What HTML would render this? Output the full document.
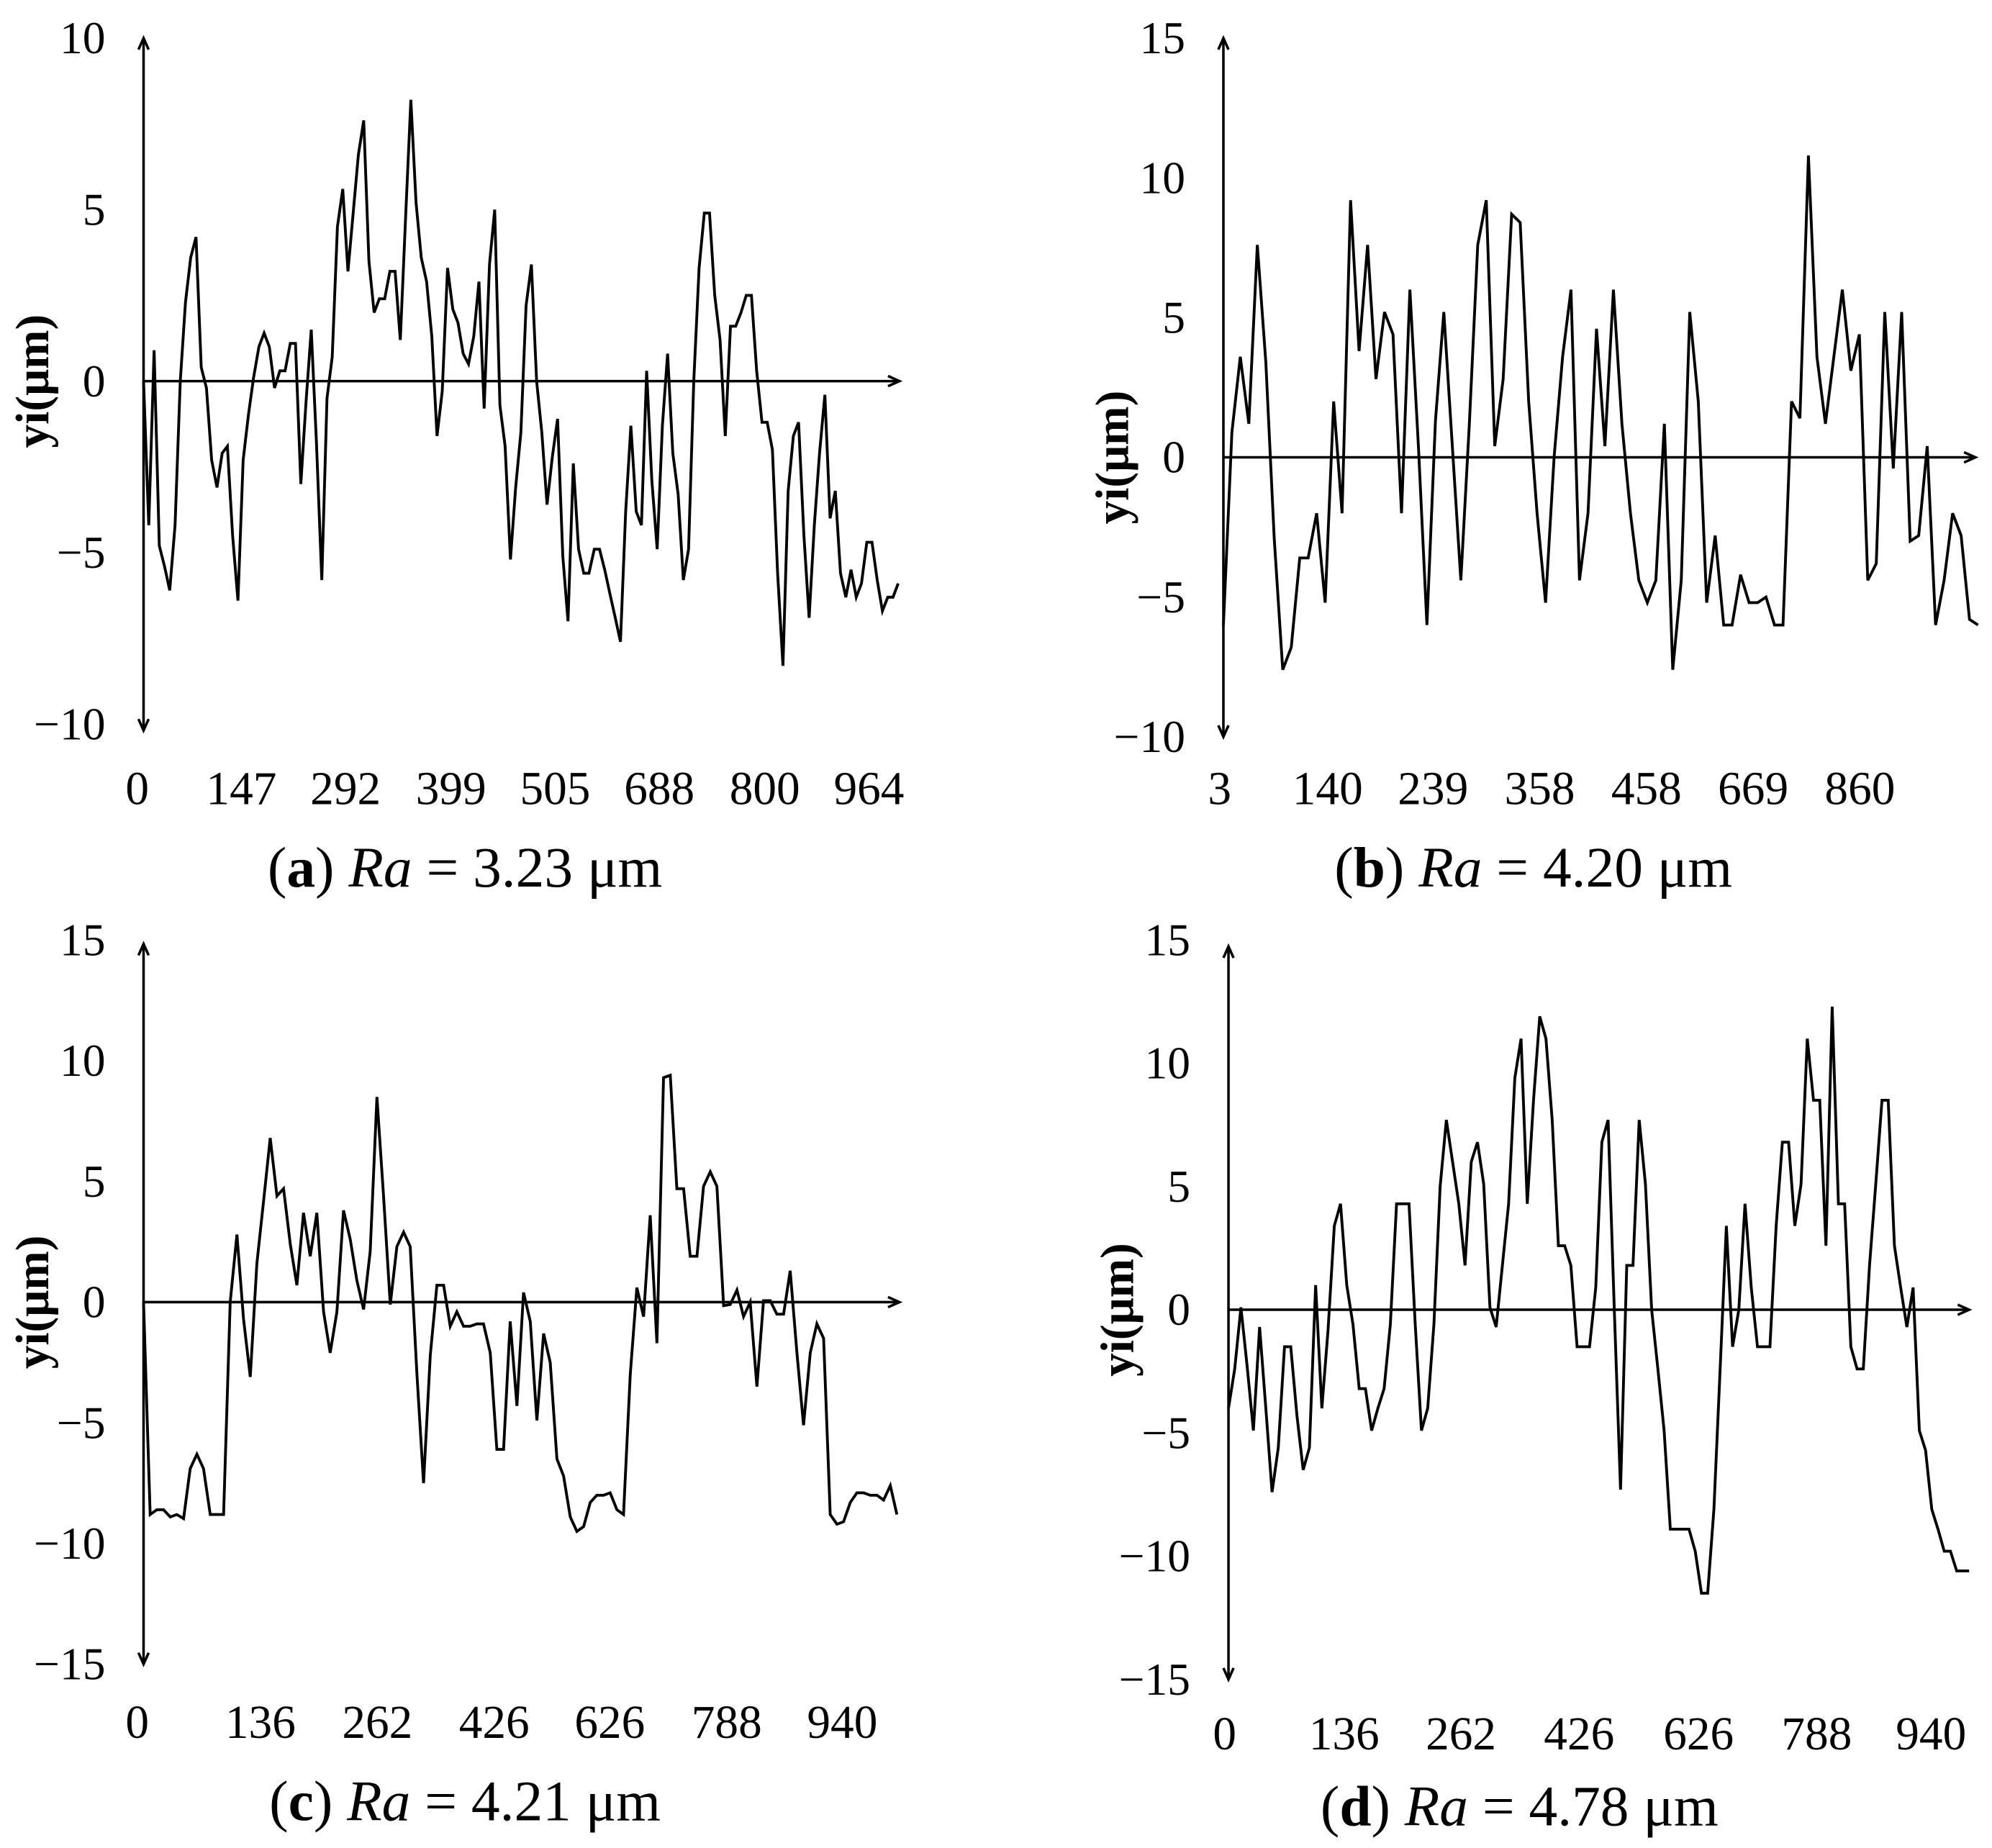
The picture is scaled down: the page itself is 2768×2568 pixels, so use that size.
<!DOCTYPE html>
<html><head><meta charset="utf-8"><style>
html,body{margin:0;padding:0;background:#fff}
svg{display:block}
text{font-family:"Liberation Serif",serif;fill:#000}
</style></head><body>
<svg id="fig" xmlns="http://www.w3.org/2000/svg" width="2768" height="2568" viewBox="0 0 1568 1454.7"></svg>
<script>
const aValues=[0,-4.2,0.9,-4.8,-5.4,-6.1,-4.2,0,2.3,3.6,4.2,0.4,-0.2,-2.3,-3.1,-2.1,-1.9,-4.5,-6.4,-2.3,-1.0,0.1,1.0,1.4,1.0,-0.2,0.3,0.3,1.1,1.1,-3.0,-0.6,1.5,-1.8,-5.8,-0.5,0.7,4.5,5.6,3.2,4.9,6.6,7.6,3.5,2.0,2.4,2.4,3.2,3.2,1.2,4.8,8.2,5.2,3.6,2.9,1.3,-1.6,-0.3,3.3,2.1,1.7,0.8,0.5,1.3,2.9,-0.8,3.4,5.0,-0.7,-1.9,-5.2,-3.1,-1.5,2.2,3.4,0.0,-1.5,-3.6,-2.2,-1.1,-5.1,-7.0,-2.4,-4.9,-5.6,-5.6,-4.9,-4.9,-5.5,-6.2,-6.9,-7.6,-3.8,-1.3,-3.8,-4.2,0.3,-2.9,-4.9,-1.3,0.8,-2.1,-3.3,-5.8,-4.9,0,3.3,4.9,4.9,2.5,1.2,-1.6,1.6,1.6,2.0,2.5,2.5,0.3,-1.2,-1.2,-2.0,-5.6,-8.3,-3.2,-1.6,-1.2,-4.5,-6.9,-4.2,-2.1,-0.4,-4.0,-3.2,-5.6,-6.3,-5.5,-6.3,-5.9,-4.7,-4.7,-5.8,-6.7,-6.3,-6.3,-5.9];
const bValues=[-6.0,0.9,3.6,1.2,7.6,3.4,-2.9,-7.6,-6.8,-3.6,-3.6,-2.0,-5.2,2.0,-2.0,9.2,3.8,7.6,2.8,5.2,4.4,-2.0,6.0,0.4,-6.0,1.3,5.2,0.4,-4.4,1.2,7.6,9.2,0.4,2.8,8.7,8.4,2.0,-2.0,-5.2,0,3.6,6.0,-4.4,-2.0,4.6,0.4,6.0,1.2,-2.0,-4.4,-5.2,-4.4,1.2,-7.6,-4.4,5.2,2.0,-5.2,-2.8,-6.0,-6.0,-4.2,-5.2,-5.2,-5.0,-6.0,-6.0,2.0,1.4,10.8,3.6,1.2,3.6,6.0,3.1,4.4,-4.4,-3.8,5.2,-0.4,5.2,-3.0,-2.8,0.4,-6.0,-4.4,-2.0,-2.8,-5.8,-6.0];
const cValues=[0,-8.8,-8.6,-8.6,-8.9,-8.8,-8.97,-6.9,-6.3,-6.9,-8.8,-8.8,-8.8,0,2.8,-0.7,-3.1,1.6,4.2,6.8,4.4,4.7,2.4,0.7,3.7,1.9,3.7,-0.4,-2.1,-0.4,3.8,2.6,0.9,-0.3,2.1,8.5,4.4,-0.1,2.3,2.9,2.3,-3.0,-7.5,-2.2,0.7,0.7,-1.0,-0.4,-1.0,-1.0,-0.9,-0.9,-2.1,-6.1,-6.1,-0.8,-4.3,0.4,-0.8,-4.9,-1.3,-2.5,-6.5,-7.2,-8.9,-9.5,-9.3,-8.3,-8.0,-8.0,-7.9,-8.6,-8.8,-3.0,0.6,-0.6,3.6,-1.7,9.3,9.4,4.7,4.7,1.9,1.9,4.8,5.4,4.8,-0.15,-0.1,0.5,-0.6,0,-3.5,0.06,0.06,-0.5,-0.5,1.3,-2.1,-5.1,-2.1,-0.9,-1.5,-8.8,-9.2,-9.1,-8.3,-7.9,-7.9,-8.0,-8.0,-8.2,-7.6,-8.8];
const dValues=[-4.0,-2.4,0.1,-2.3,-4.9,-0.7,-4.0,-7.4,-5.6,-1.5,-1.5,-4.3,-6.5,-5.6,1.0,-4.0,-0.8,3.4,4.3,1.0,-0.6,-3.2,-3.2,-4.9,-4.0,-3.2,-0.6,4.3,4.3,4.3,-0.6,-4.9,-4.0,-0.6,5.0,7.7,6.0,4.3,1.8,6.0,6.8,5.1,0.1,-0.7,1.8,4.3,9.4,11.0,4.3,8.5,11.9,11.0,7.7,2.6,2.6,1.8,-1.5,-1.5,-1.5,0.9,6.8,7.7,0,-7.3,1.8,1.8,7.7,5.1,0,-2.4,-4.9,-8.9,-8.9,-8.9,-8.9,-9.8,-11.5,-11.5,-8.1,-2.4,3.4,-1.5,0,4.3,0.9,-1.5,-1.5,-1.5,3.4,6.8,6.8,3.4,5.1,11.0,8.5,8.5,2.6,12.3,4.3,4.3,-1.5,-2.4,-2.4,1.8,5.1,8.5,8.5,2.6,0.9,-0.7,0.9,-4.9,-5.7,-8.1,-8.9,-9.8,-9.8,-10.6,-10.6,-10.6];
const aYTicks=[10,5,0,-5,-10];
const bYTicks=[15,10,5,0,-5,-10];
const cYTicks=[15,10,5,0,-5,-10,-15];
const dYTicks=[15,10,5,0,-5,-10,-15];
const aXLabels=["0","147","292","399","505","688","800","964"];
const bXLabels=["3","140","239","358","458","669","860"];
const cXLabels=["0","136","262","426","626","788","940"];
const dXLabels=["0","136","262","426","626","788","940"];

const NS="http://www.w3.org/2000/svg";
const svg=document.getElementById('fig');
function mk(tag,attrs,parent){const e=document.createElementNS(NS,tag);for(const k in attrs)e.setAttribute(k,attrs[k]);(parent||svg).appendChild(e);return e;}

const panels=[
 {id:'a',vals:aValues,yt:aYTicks,xl:aXLabels,ax:113,x0:113,x1:707,xEnd:708,yTop:30,yBot:575,zero:300,ppu:27,
  xlx:[108,190,272,355,437,519,602,684],xly:633,cap:'3.23',capx:366,capy:698},
 {id:'b',vals:bValues,yt:bYTicks,xl:bXLabels,ax:963,x0:963,x1:1557,xEnd:1555,yTop:30,yBot:580,zero:360,ppu:22,
  xlx:[960,1045,1128,1212,1296,1380,1464],xly:633,cap:'4.20',capx:1207,capy:698},
 {id:'c',vals:cValues,yt:cYTicks,xl:cXLabels,ax:113,x0:113,x1:706,xEnd:708,yTop:743,yBot:1310,zero:1025,ppu:19,
  xlx:[108,205,297,389,480,572,663],xly:1368,cap:'4.21',capx:366,capy:1433},
 {id:'d',vals:dValues,yt:dYTicks,xl:dXLabels,ax:967,x0:967,x1:1550,xEnd:1550,yTop:745,yBot:1322,zero:1031,ppu:19.4,
  xlx:[964,1058,1150,1243,1337,1430,1520],xly:1377,cap:'4.78',capx:1196,capy:1437}
];

panels.forEach(p=>{
  const g=mk('g',{});
  
  
  const yS=v=>p.zero-v*p.ppu;
  const n=p.vals.length;
  const xS=i=>p.x0+(p.x1-p.x0)*i/(n-1);
  const ya=mk('line',{x1:p.ax,y1:p.yTop,x2:p.ax,y2:p.yBot,stroke:'#000','stroke-width':2},g);
  
  
  const ah=mk('path',{d:`M${p.ax-4},${p.yTop+9} L${p.ax},${p.yTop} L${p.ax+4},${p.yTop+9} M${p.ax-4},${p.yBot-9} L${p.ax},${p.yBot} L${p.ax+4},${p.yBot-9}`,fill:'none',stroke:'#000','stroke-width':2},g);
  
  
  const xa=mk('line',{x1:p.ax,y1:p.zero,x2:p.xEnd,y2:p.zero,stroke:'#000','stroke-width':2},g);
  
  
  const xh=mk('path',{d:`M${p.xEnd-9},${p.zero-4} L${p.xEnd},${p.zero} L${p.xEnd-9},${p.zero+4}`,fill:'none',stroke:'#000','stroke-width':2},g);
  
  
  p.yt.forEach(v=>{
    const t=mk('text',{x:p.ax-30,y:yS(v)+12,'font-size':36,'text-anchor':'end'},g);
    t.textContent=v<0?'\u2212'+Math.abs(v):String(v);
    
    
  });
  const cy=p.zero;
  const yt=mk('text',{x:p.ax-75,y:cy,'font-size':37,'font-weight':'bold','text-anchor':'middle',transform:`rotate(-90 ${p.ax-75} ${cy})`},g);
  yt.textContent='yi(\u03bcm)';
  
  
  p.xl.forEach((s,i)=>{
    const t=mk('text',{x:p.xlx[i],y:p.xly,'font-size':37,'text-anchor':'middle'},g);
    t.textContent=s;
    
    
  });
  const pts=p.vals.map((v,i)=>xS(i).toFixed(1)+','+yS(v).toFixed(1)).join(' ');
  const pl=mk('polyline',{points:pts,fill:'none',stroke:'#000','stroke-width':2.2,'stroke-linejoin':'miter'},g);
  
  
  const c=mk('text',{x:p.capx,y:p.capy,'font-size':45,'text-anchor':'middle'},g);
  
  
  c.innerHTML=`(<tspan font-weight="bold">${p.id}</tspan>) <tspan font-style="italic">Ra</tspan> = ${p.cap} \u03bcm`;
});
</script>
</body></html>
